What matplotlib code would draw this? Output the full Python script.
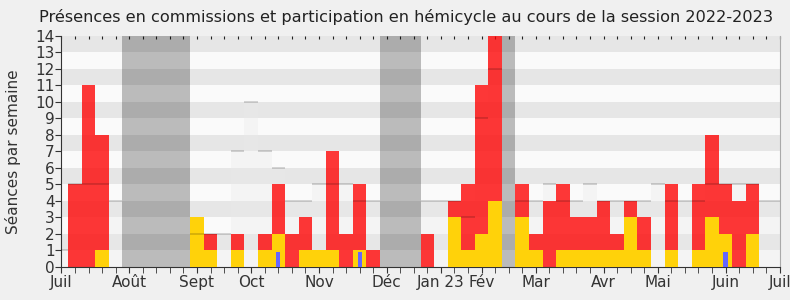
import numpy as np
import matplotlib
matplotlib.use("Agg")
import matplotlib.pyplot as plt

# one entry per week, week 0 = first week of July 2022
hemicycle = [0, 5, 11, 8, 0, 0, 0, 0, 0, 0,
             0, 2, 0, 2, 0, 2, 5, 2, 3, 0,
             7, 2, 5, 1, 0, 0, 0, 2, 0, 4,
             5, 11, 14, 0, 5, 2, 4, 5, 3, 3,
             4, 2, 4, 3, 0, 5, 0, 5, 8, 5,
             4, 5, 0, 0]
commission = [0, 0, 0, 1, 0, 0, 0, 0, 0, 0,
              3, 1, 0, 1, 0, 1, 2, 0, 1, 1,
              1, 0, 1, 0, 0, 0, 0, 0, 0, 3,
              1, 2, 4, 0, 3, 1, 0, 1, 1, 1,
              1, 1, 3, 1, 0, 1, 0, 1, 3, 2,
              0, 2, 0, 0]
interventions = [0, 0, 0, 0, 0, 0, 0, 0, 0, 0,
                 0, 0, 0, 0, 0, 0, 0.9, 0, 0, 0,
                 0, 0, 0.9, 0, 0, 0, 0, 0, 0, 0,
                 0, 0, 0, 0, 0, 0, 0, 0, 0, 0,
                 0, 0, 0, 0, 0, 0, 0, 0, 0, 0.9,
                 0, 0, 0, 0]
mediane = [1, 5, 5, 5, 4, 0, 0, 0, 0, 0,
           2, 2, 2, 7, 10, 7, 6, 4, 4, 5,
           5, 5, 4, 4, 0, 0, 0, 4, 4, 4,
           3, 9, 12, 0, 4, 4, 5, 4, 4, 5,
           4, 4, 4, 4, 5, 4, 4, 4, 5, 5,
           5, 5, 4, 4]
vacances = [5, 6, 7, 8, 9, 24, 25, 26, 33]

mois_pos = [0, 5, 10, 14, 19, 24, 28, 31, 35, 40, 44, 49, 53]
mois_labels = ["Juil", "Août", "Sept", "Oct", "Nov", "Déc", "Jan 23",
               "Fév", "Mar", "Avr", "Mai", "Juin", "Juil"]

semaines = np.arange(len(hemicycle))
ymax = 14

fig = plt.figure(figsize=(7.9, 3.0), dpi=100, facecolor="#f0f0f0")
ax = fig.add_axes([0.0778, 0.111, 0.9092, 0.769])

# stripes
for r in range(ymax):
    ax.axhspan(r, r + 1, color="#fafafa" if r % 2 == 0 else "#e6e6e6", lw=0, zorder=0)

# vacations
ax.bar(vacances, [ymax] * len(vacances), width=1, color="black", alpha=0.25, lw=0, zorder=1)

# median of all deputies
ax.bar(semaines, mediane, width=1, color="#ebebeb", alpha=0.4, lw=0, zorder=1)

ax.bar(semaines, hemicycle, width=1, color="red", alpha=0.78, lw=0, zorder=2)
ax.bar(semaines, commission, width=1, color="#ffd20a", lw=0, zorder=3)
ax.bar(semaines, interventions, width=0.3, color="#6666ff", lw=0, zorder=4)

for s, m in zip(semaines, mediane):
    if m > 0:
        ax.hlines(m, s - 0.5, s + 0.5, color="black", alpha=0.2, lw=1.1, zorder=5)

ax.set_xlim(0, 53)
ax.set_ylim(0, ymax)
ax.set_yticks(range(ymax + 1))
ax.set_xticks(mois_pos)
ax.set_xticklabels(mois_labels)
ax.set_xticks(range(54), minor=True)
ax.tick_params(axis="both", which="both", direction="out", length=4,
               color="#333333", labelcolor="#333333", labelsize=11, pad=1)
ax.tick_params(axis="x", which="major", pad=2)

top = ax.secondary_xaxis("top")
top.set_xticks(range(54))
top.set_xticklabels([])
top.tick_params(direction="in", length=2, color="#222222")
top.spines["top"].set_visible(False)

ax.spines["top"].set_visible(False)
ax.spines["right"].set_color("#aaaaaa")
ax.spines["left"].set_color("#333333")
ax.spines["bottom"].set_color("#333333")

ax.set_ylabel("Séances par semaine", fontsize=11, color="#333333", labelpad=10)
fig.text(0.514, 0.943, "Présences en commissions et participation en hémicycle au cours de la session 2022-2023",
         fontsize=11.6, color="#222222", ha="center", va="center")

fig.savefig("out.png", dpi=100, facecolor=fig.get_facecolor())
